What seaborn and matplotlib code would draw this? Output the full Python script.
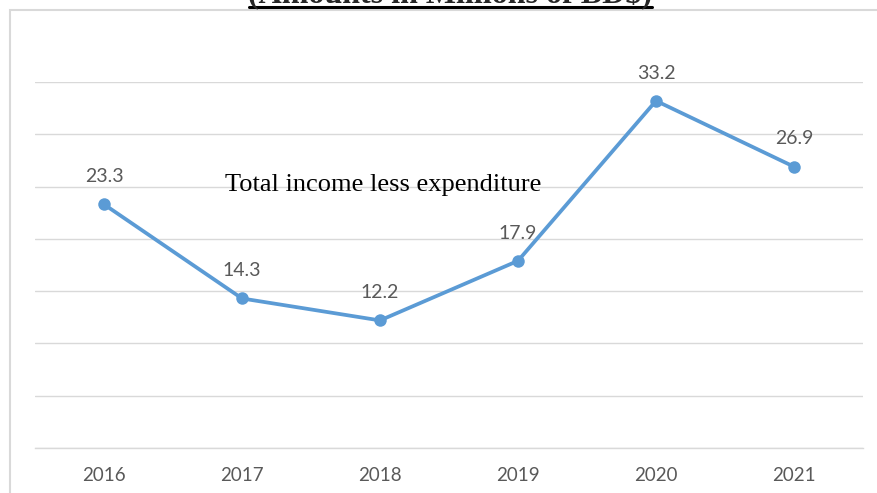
import matplotlib
matplotlib.use("Agg")
import matplotlib.pyplot as plt
import seaborn as sns
import pandas as pd
from matplotlib.lines import Line2D
from matplotlib.patches import Rectangle

# Total income less expenditure, millions of BD$
years = ["2016", "2017", "2018", "2019", "2020", "2021"]
net_income = [23.3, 14.3, 12.2, 17.9, 33.2, 26.9]

sns.set_style("white")
plt.rcParams["font.family"] = ["Lato", "DejaVu Sans"]

W, H = 877, 493
fig = plt.figure(figsize=(W / 100, H / 100), dpi=100)
ax = fig.add_axes([35 / W, 1 - 448 / H, (863 - 35) / W, (448 - 82) / H])

df = pd.DataFrame({"year": years, "value": net_income})
sns.lineplot(data=df, x="year", y="value", ax=ax, color="#5B9BD5", lw=2.7,
             marker="o", markersize=9, markeredgewidth=0, sort=False, zorder=3)

ax.set_xlim(-0.5, len(years) - 0.5)
ax.set_ylim(0, 35)
ax.set_yticks(range(0, 36, 5))
ax.yaxis.grid(True, color="#D9D9D9", lw=1)
ax.xaxis.grid(False)
ax.set_yticklabels([])
ax.set_xlabel("")
ax.set_ylabel("")
for side in ("top", "left", "right"):
    ax.spines[side].set_visible(False)
ax.spines["bottom"].set_color("#D9D9D9")
ax.spines["bottom"].set_linewidth(1)
ax.tick_params(axis="both", length=0)
ax.tick_params(axis="x", pad=14, labelsize=13.5, labelcolor="#595959")

for i, v in enumerate(net_income):
    ax.annotate(f"{v}", (i, v), xytext=(0, 20), textcoords="offset points",
                ha="center", va="center", fontsize=14, color="#595959")

# series caption inside the plot
fig.text(225 / W, 1 - 191 / H, "Total income less expenditure",
         family="Liberation Serif", fontsize=19, va="baseline", color="black")

# heading (underlined)
fig.text(450 / W, 1 - 3 / H, "(Amounts in Millions of BD$)", ha="center",
         va="baseline", fontsize=23, fontweight="bold", family="Liberation Serif")
fig.add_artist(Line2D([249 / W, 652 / W], [1 - 6.5 / H] * 2,
                      transform=fig.transFigure, color="black", lw=2.2))

# chart frame
fig.add_artist(Rectangle((10 / W, -0.1), 1.2, 1 - 10 / H + 0.1,
                         transform=fig.transFigure, fill=False,
                         ec="#D9D9D9", lw=1.5))

fig.savefig("out.png", dpi=100)
